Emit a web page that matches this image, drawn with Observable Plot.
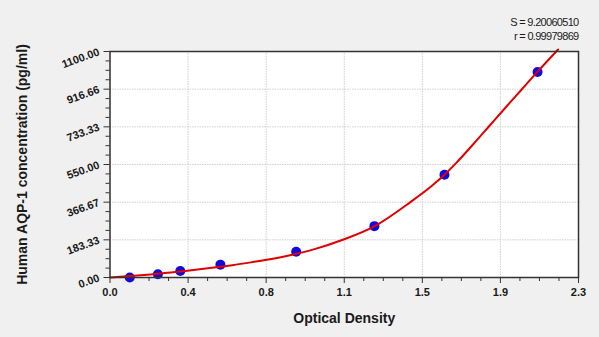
<!DOCTYPE html>
<html><head><meta charset="utf-8">
<script src="https://cdn.jsdelivr.net/npm/d3@7"></script>
<script src="https://cdn.jsdelivr.net/npm/@observablehq/plot@0.6"></script>
<style>
html,body{margin:0;padding:0;background:#f0f0f0;}
</style></head><body><div id="chart"></div>
<script>
// Standards (points)
const stdOD = [0.097, 0.235, 0.345, 0.542, 0.914, 1.298, 1.642, 2.099];
const stdConc = [0, 15.6, 31.25, 62.5, 125, 250, 500, 1000];
// Fitted curve
const curveOD = [0, 0.1, 0.2, 0.3, 0.4, 0.5, 0.6, 0.7, 0.8, 0.9, 1.0, 1.15, 1.3, 1.475, 1.573, 1.642, 1.7, 1.78, 1.86, 1.94, 2.02, 2.1, 2.2];
const curveConc = [0, 7, 15, 24, 35, 47, 60, 75, 91, 112, 137, 186, 250, 367, 440, 500, 558, 645, 735, 825, 914, 1003, 1110];
// Axes
const xTickLabels = ["0.0", "0.4", "0.8", "1.1", "1.5", "1.9", "2.3"];
const yTickLabels = ["0.00", "183.33", "366.67", "550.00", "733.33", "916.66", "1100.00"];
const xMax = 2.3, yMax = 1100;
const xTitle = "Optical Density";
const yTitle = "Human AQP-1 concentration (pg/ml)";
const statS = "S = 9.20060510";
const statR = "r = 0.99979869";

const nMaj = xTickLabels.length - 1;
const xTicks = xTickLabels.map((_, i) => i * xMax / nMaj);
const yTicks = yTickLabels.map((_, i) => i * yMax / nMaj);
const xMinor = d3.range(nMaj * 4 + 1).filter(i => i % 4).map(i => i * xMax / (nMaj * 4));
const yMinor = d3.range(nMaj * 4 + 1).filter(i => i % 4).map(i => i * yMax / (nMaj * 4));

const points = stdOD.map((x, i) => ({x, y: stdConc[i]}));
const curve = curveOD.map((x, i) => ({x, y: curveConc[i]}));

const font = "'Liberation Sans', Arial, sans-serif";
const ink = "#1a1a1a";

const chart = Plot.plot({
  width: 599,
  height: 337,
  marginLeft: 109.5,
  marginRight: 21,
  marginTop: 51,
  marginBottom: 60,
  style: {background: "#f0f0f0", fontFamily: font, color: ink},
  x: {domain: [0, xMax]},
  y: {domain: [0, yMax]},
  marks: [
    Plot.frame({fill: "white", stroke: null}),
    Plot.gridX(xTicks, {stroke: "#cfcfcf", strokeOpacity: 1, strokeDasharray: "1.5,1"}),
    Plot.gridY(yTicks, {stroke: "#cfcfcf", strokeOpacity: 1, strokeDasharray: "1.5,1"}),
    Plot.axisX({ticks: xMinor, tickSize: 4, text: null, label: null, stroke: "#333"}),
    Plot.axisY({ticks: yMinor, tickSize: 4, text: null, label: null, stroke: "#333"}),
    Plot.axisX({ticks: xTicks, tickSize: 6, tickPadding: 5, label: null, stroke: "#333",
      tickFormat: d => xTickLabels[Math.round(d / xMax * nMaj)],
      fontSize: 11, fontWeight: "bold", fill: ink}),
    Plot.axisY({ticks: yTicks, tickSize: 6, tickPadding: 5, label: null, stroke: "#333",
      tickFormat: d => yTickLabels[Math.round(d / yMax * nMaj)],
      tickRotate: -20, textAnchor: "end", lineAnchor: "middle", dy: 0,
      fontSize: 11, fontWeight: "bold", fill: ink}),
    Plot.dot(points, {x: "x", y: "y", r: 5, fill: "#1208e0", stroke: null}),
    Plot.line(curve, {x: "x", y: "y", stroke: "#e00000", strokeWidth: 2, curve: "monotone-x"}),
    Plot.frame({stroke: "#333", strokeWidth: 1.5}),
    Plot.text([xTitle], {frameAnchor: "bottom", dy: 45, fontSize: 14, fontWeight: "bold", fill: ink}),
    Plot.text([yTitle], {frameAnchor: "left", textAnchor: "middle", dx: -87, rotate: -90,
      fontSize: 14, fontWeight: "bold", fill: ink}),
    Plot.text([statS], {frameAnchor: "top-right", textAnchor: "end", dy: -33,
      fontSize: 11, fill: ink}),
    Plot.text([statR], {frameAnchor: "top-right", textAnchor: "end", dy: -19,
      fontSize: 11, fill: ink})
  ]
});
d3.select(chart).selectAll("text").filter(function() {
  const t = this.textContent;
  return t === statS || t === statR;
}).attr("letter-spacing", "-0.7px");
document.getElementById("chart").appendChild(chart);
</script></body></html>
